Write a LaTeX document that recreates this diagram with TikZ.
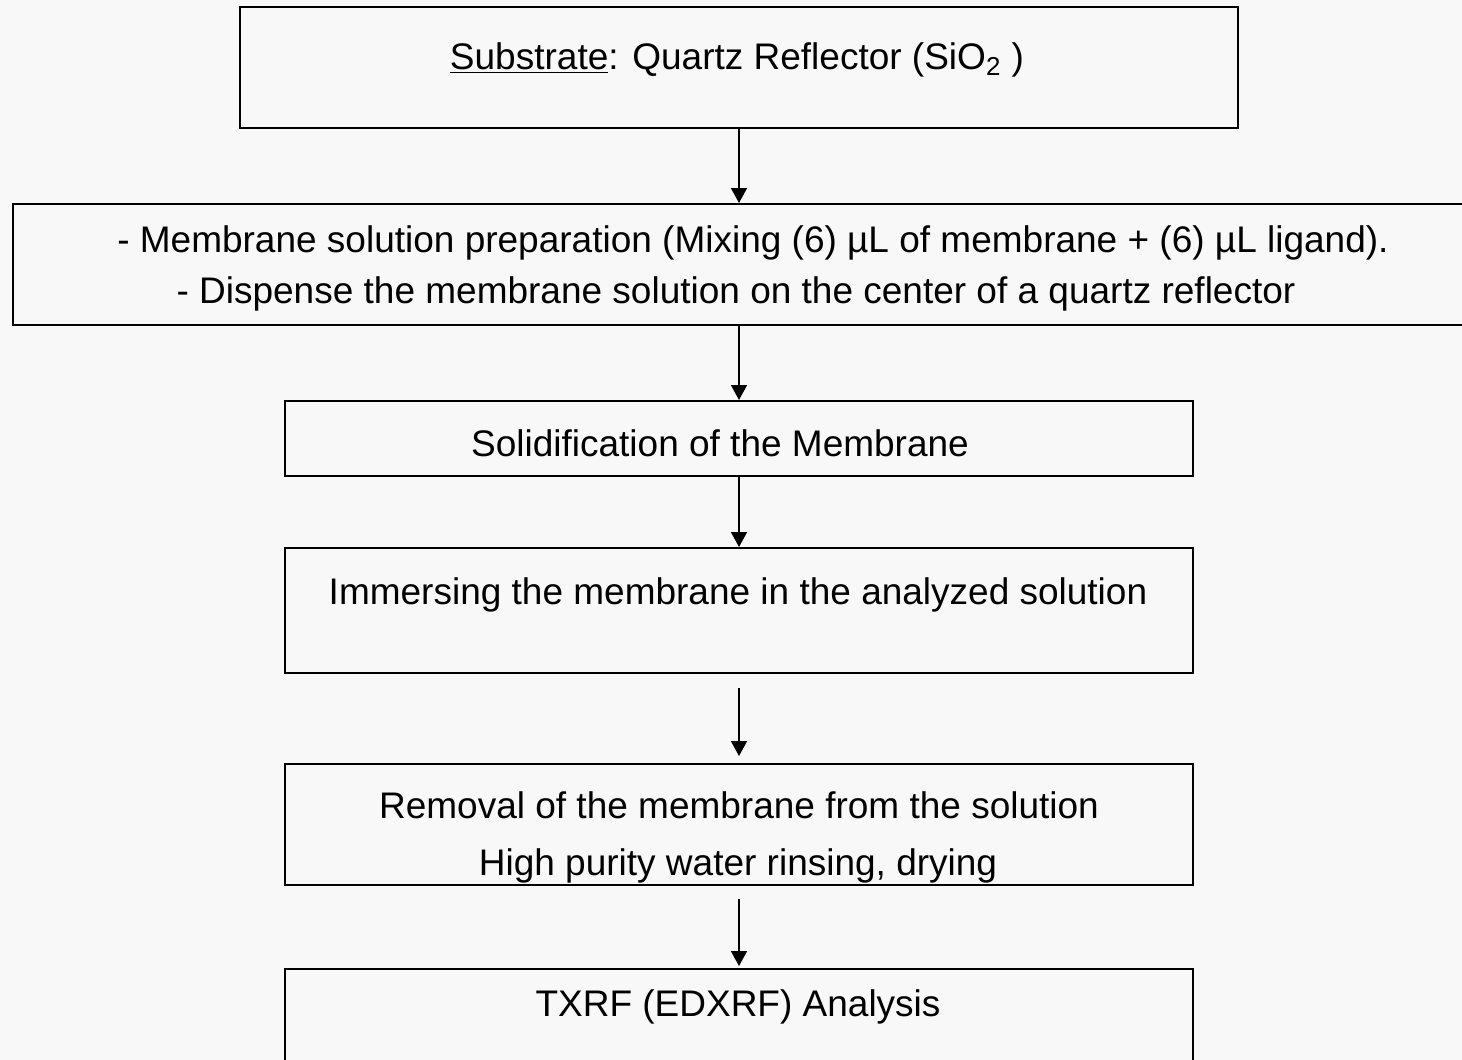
\documentclass[tikz,border=0pt]{standalone}
\usepackage{fontspec}
\setmainfont{Liberation Sans}
\usetikzlibrary{arrows.meta}
\definecolor{pagebg}{RGB}{248,248,248}
\tikzset{
  stepbox/.style={draw=black, line width=1pt, rectangle, inner sep=0pt, fill=none},
  steptext/.style={anchor=base, inner sep=0pt, font=\fontsize{18.5}{22}\selectfont},
  flow/.style={draw=black, line width=0.8pt, -{Triangle[length=7.5pt,width=8pt]}}
}
\begin{document}
\begin{tikzpicture}[x=0.5pt, y=-0.5pt]
  \useasboundingbox (0,0) rectangle (1462,1060);
  \clip (0,0) rectangle (1462,1060);
  \fill[pagebg] (0,0) rectangle (1462,1060);

  % process boxes
  \node[stepbox, minimum width=499pt, minimum height=60.5pt] (b1) at (739,67.5) {};
  \node[stepbox, minimum width=731pt, minimum height=60.5pt] (b2) at (744,264.5) {};
  \node[stepbox, minimum width=454pt, minimum height=37.5pt] (b3) at (739,438.5) {};
  \node[stepbox, minimum width=454pt, minimum height=62.5pt] (b4) at (739,610.5) {};
  \node[stepbox, minimum width=454pt, minimum height=60.5pt] (b5) at (739,824.5) {};
  \node[stepbox, minimum width=454pt, minimum height=65.5pt] (b6) at (739,1034.5) {};

  % box texts
  \node[steptext] (t1) at (737,69) {\underline{Substrate}: Quartz Reflector (SiO\textsubscript{2} )};
  \node[steptext] (t2a) at (753,252) {- Membrane solution preparation (Mixing (6) µL of membrane + (6) µL ligand).};
  \node[steptext] (t2b) at (736,303) {- Dispense the membrane solution on the center of a quartz reflector};
  \node[steptext] (t3) at (720,456) {Solidification of the Membrane};
  \node[steptext] (t4) at (738,604) {Immersing the membrane in the analyzed solution};
  \node[steptext] (t5a) at (739,818) {Removal of the membrane from the solution};
  \node[steptext] (t5b) at (738,875) {High purity water rinsing, drying};
  \node[steptext] (t6) at (738,1016) {TXRF (EDXRF) Analysis};

  % connectors
  \draw[flow] (b1.south) -- (b2.north -| b1.south);
  \draw[flow] (b2.south -| b3.north) -- (b3.north);
  \draw[flow] (b3.south) -- (b4.north);
  \draw[flow, shorten <=7pt, shorten >=3.5pt] (b4.south) -- (b5.north);
  \draw[flow, shorten <=6.5pt, shorten >=1pt] (b5.south) -- (b6.north);
\end{tikzpicture}
\end{document}
